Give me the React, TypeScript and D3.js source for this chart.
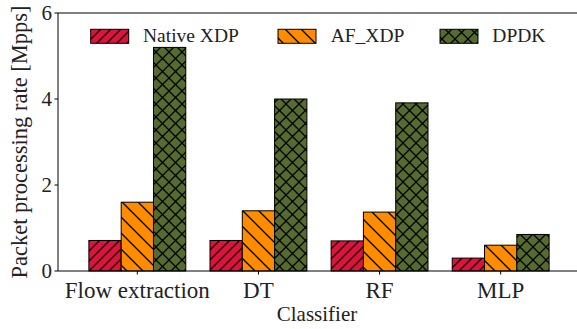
import React from 'react'
import * as d3 from 'd3';

const width = 577;
const height = 329;
const margin = { top: 13, right: -3, bottom: 58, left: 58 };

const categories = ["Flow extraction", "DT", "RF", "MLP"];
const seriesNames = ["Native XDP", "AF_XDP", "DPDK"];
const nativeXdp = [0.71, 0.71, 0.70, 0.30];
const afXdp = [1.60, 1.40, 1.37, 0.60];
const dpdk = [5.20, 4.00, 3.91, 0.85];
const yTicks = [0, 2, 4, 6];

const colors = ["#dc143c", "#ff8c00", "#556b2f"];
const hatchIds = ["hatchFwd", "hatchBack", "hatchCross"];
const font = "\"Liberation Serif\", \"Times New Roman\", \"DejaVu Serif\", serif";

function App() {
  const series = [nativeXdp, afXdp, dpdk];
  const x0 = margin.left;
  const x1 = width - margin.right;
  const yBottom = height - margin.bottom;

  const x = d3.scaleLinear().domain([-0.655, 3.655]).range([x0, x1]);
  const y = d3.scaleLinear().domain([0, 6]).range([yBottom, margin.top]);
  const barW = x(0.8 / 3) - x(0);

  // legend layout
  const legendX = [90.7, 278, 440];
  const legendTextX = [143, 330.7, 492.3];

  return (
    <svg width={width} height={height} style={{ position: "absolute", left: 0, top: 0, fontFamily: font }}>
      <defs>
        <pattern id="hatchFwd" patternUnits="userSpaceOnUse" width={10} height={10}>
          <path d="M-1,11 L11,-1 M-2,2 L2,-2 M8,12 L12,8" stroke="black" strokeWidth={1.3} />
        </pattern>
        <pattern id="hatchBack" patternUnits="userSpaceOnUse" width={16} height={16}>
          <path d="M-1,-1 L17,17 M-2,14 L2,18 M14,-2 L18,2" stroke="black" strokeWidth={1.3} />
        </pattern>
        <pattern id="hatchCross" patternUnits="userSpaceOnUse" width={13} height={13}>
          <path d="M-1,-1 L14,14 M-1,14 L14,-1" stroke="black" strokeWidth={1.3} />
        </pattern>
      </defs>
      <rect x={0} y={0} width={width} height={height} fill="white" />

      {/* bars */}
      {series.map((vals, si) => (
        <g key={si}>
          {vals.map((v, ci) => {
            const bx = x(ci) + (si - 1.5) * barW;
            const by = y(v);
            const bh = yBottom - by;
            return (
              <g key={ci}>
                <rect x={bx} y={by} width={barW} height={bh} fill={colors[si]} />
                <rect x={bx} y={by} width={barW} height={bh} fill={`url(#${hatchIds[si]})`} />
                <rect x={bx} y={by} width={barW} height={bh} fill="none" stroke="black" strokeWidth={1} />
              </g>
            );
          })}
        </g>
      ))}

      {/* spines */}
      <line x1={x0} x2={x0} y1={margin.top} y2={yBottom} stroke="black" strokeWidth={1} />
      <line x1={x0} x2={x1} y1={margin.top} y2={margin.top} stroke="black" strokeWidth={1} />
      <line x1={x0} x2={x1} y1={yBottom} y2={yBottom} stroke="black" strokeWidth={1} />
      <line x1={x1} x2={x1} y1={margin.top} y2={yBottom} stroke="black" strokeWidth={1} />

      {/* y ticks */}
      {yTicks.map((t) => (
        <g key={t}>
          <line x1={x0 - 3.5} x2={x0} y1={y(t)} y2={y(t)} stroke="black" strokeWidth={1} />
          <text x={x0 - 6} y={y(t)} dy="0.34em" textAnchor="end" fontSize={21} fill="#222">{t}</text>
        </g>
      ))}

      {/* x ticks */}
      {categories.map((c, i) => (
        <g key={c}>
          <line x1={x(i)} x2={x(i)} y1={yBottom} y2={yBottom + 3.5} stroke="black" strokeWidth={1} />
          <text x={x(i)} y={298} textAnchor="middle" fontSize={23} fill="#222">{c}</text>
        </g>
      ))}

      {/* axis labels */}
      <text x={317} y={321} textAnchor="middle" fontSize={21} fill="#222">Classifier</text>
      <text transform={`translate(27,${(margin.top + yBottom) / 2}) rotate(-90)`} textAnchor="middle"
        fontSize={22.5} fill="#222">Packet processing rate [Mpps]</text>

      {/* legend */}
      {seriesNames.map((name, si) => (
        <g key={name}>
          <rect x={legendX[si]} y={29.3} width={38} height={14} fill={colors[si]} />
          <rect x={legendX[si]} y={29.3} width={38} height={14} fill={`url(#${hatchIds[si]})`} />
          <rect x={legendX[si]} y={29.3} width={38} height={14} fill="none" stroke="black" strokeWidth={1} />
          <text x={legendTextX[si]} y={42} fontSize={19.5} fill="#222">{name}</text>
        </g>
      ))}
    </svg>
  );
}

export default App;
